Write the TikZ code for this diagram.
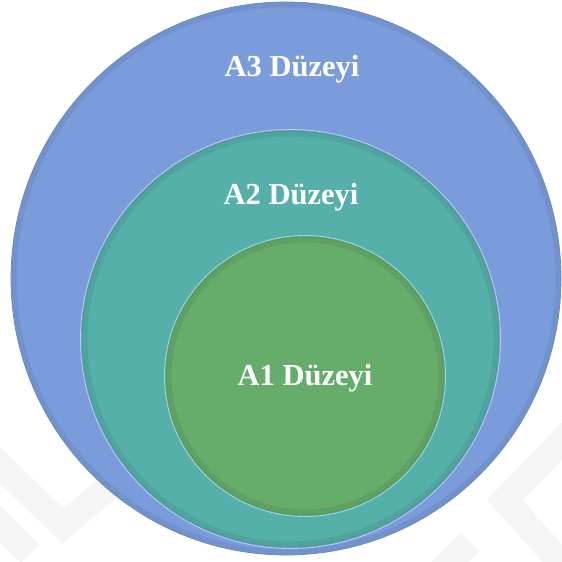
\documentclass[tikz,border=0pt]{standalone}
\usepackage{fontspec}
\setmainfont{Liberation Serif}
\begin{document}
\begin{tikzpicture}[x=1pt,y=1pt,
  level/.style={fill=#1, draw=#1!85!black, line width=0.7pt},
  glow/.style={draw=black, draw opacity=0.06, line width=5pt},
  rim/.style={draw=white, draw opacity=0.5, line width=0.8pt},
  lbl/.style={text=white, font=\bfseries\fontsize{30.5}{36}\selectfont, inner sep=0pt, anchor=base},
  wm/.style={draw=black!4, line width=26pt}
]
\definecolor{cblue}{RGB}{122,156,218}
\definecolor{cteal}{RGB}{84,176,168}
\definecolor{cgreen}{RGB}{102,172,106}
\useasboundingbox (0,0) rectangle (562,562);
\fill[white] (0,0) rectangle (562,562);
% faint watermark
\begin{scope}
\clip (0,0) rectangle (562,562);
\draw[wm] (-20,116) -- (63,36) -- (150,110);
\draw[wm] (-20,58) -- (30,8);
\draw[wm] (600,160) -- (505,62) -- (560,0);
\draw[wm] (430,-20) -- (470,20);
\end{scope}
% outer A3
\path[rim] (286,283.5) ellipse [x radius=276.5, y radius=277.5];
\path[level=cblue] (286,283.5) ellipse [x radius=275, y radius=276.5];
\path[glow] (286,283.5) ellipse [x radius=272, y radius=273.5];
% middle A2
\path[rim] (290.5,223) ellipse [x radius=210, y radius=209.5];
\path[level=cteal] (290.5,223) ellipse [x radius=208.5, y radius=208];
\path[glow] (290.5,223) ellipse [x radius=205.5, y radius=205];
% inner A1
\path[rim] (305,186) ellipse [x radius=140.5, y radius=140.5];
\path[level=cgreen] (305,186) ellipse [x radius=139, y radius=139];
\path[glow] (305,186) ellipse [x radius=136, y radius=136];
% labels
\node[lbl] (a3) at (292,485) {A3 Düzeyi};
\node[lbl] (a2) at (291,357) {A2 Düzeyi};
\node[lbl] (a1) at (305,176) {A1 Düzeyi};
\end{tikzpicture}
\end{document}
